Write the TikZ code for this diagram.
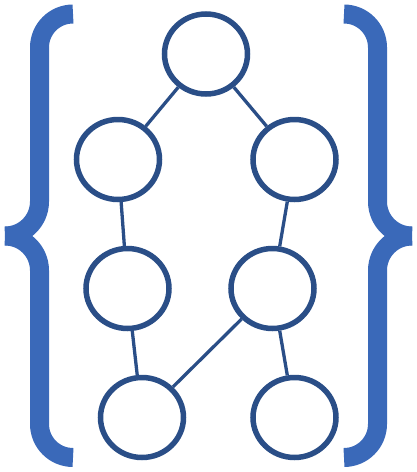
\documentclass[tikz,border=0pt]{standalone}
\usetikzlibrary{shapes.geometric}
\definecolor{bracecol}{HTML}{3A69B9}
\definecolor{nodecol}{HTML}{2A4E87}
\begin{document}
\begin{tikzpicture}[x=1pt,y=-1pt,
  vert/.style={ellipse,draw=nodecol,line width=5.5pt,minimum width=83pt,minimum height=80pt,inner sep=0pt,fill=white},
  edge/.style={draw=nodecol,line width=3.3pt},
  bracestroke/.style={draw=bracecol,line width=19pt,line cap=butt}]
\useasboundingbox (0,0) rectangle (417,472);
% left brace
\draw[bracestroke] (73,14) .. controls (54.5,14) and (39.5,29) .. (39.5,47.5) -- (39.5,201.5) .. controls (39.5,220.55) and (24.05,236) .. (5,236);
\draw[bracestroke] (5,236) .. controls (24.05,236) and (39.5,251.45) .. (39.5,270.5) -- (39.5,424) .. controls (39.5,442.5) and (54.5,457.5) .. (73,457.5);
% right brace
\draw[bracestroke] (344,14) .. controls (362.5,14) and (377.5,29) .. (377.5,47.5) -- (377.5,201.5) .. controls (377.5,220.55) and (392.95,236) .. (412,236);
\draw[bracestroke] (412,236) .. controls (392.95,236) and (377.5,251.45) .. (377.5,270.5) -- (377.5,424) .. controls (377.5,442.5) and (362.5,457.5) .. (344,457.5);
% nodes
\node[vert] (t) at (206,54) {};
\node[vert] (a) at (118,159.5) {};
\node[vert] (b) at (294.5,159.5) {};
\node[vert] (c) at (127.5,288.5) {};
\node[vert] (d) at (272.5,288.5) {};
\node[vert] (e) at (142,417.5) {};
\node[vert] (f) at (294.5,417.5) {};
% edges
\draw[edge] (t) -- (a);
\draw[edge] (t) -- (b);
\draw[edge] (a) -- (c);
\draw[edge] (b) -- (d);
\draw[edge] (c) -- (e);
\draw[edge] (d) -- (e);
\draw[edge] (d) -- (f);
\end{tikzpicture}
\end{document}
